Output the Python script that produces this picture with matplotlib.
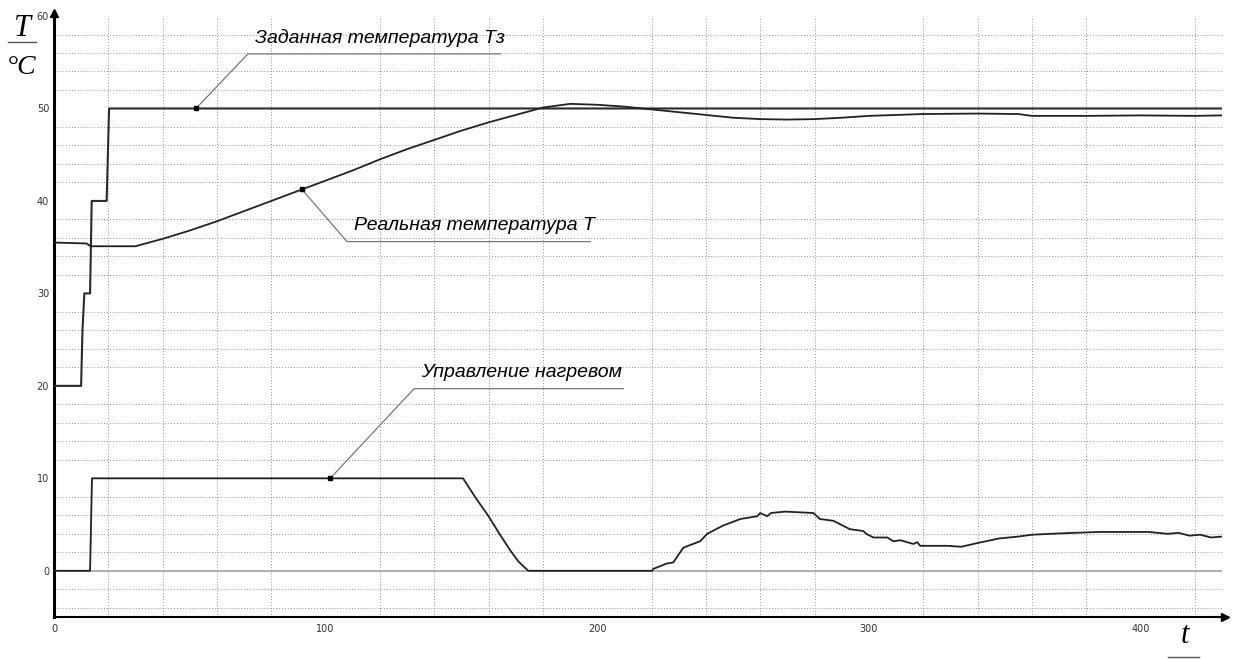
import numpy as np
import matplotlib.pyplot as plt

#-------- data --------#
# set temperature Tз (step profile)
t_set = [0, 10, 10.5, 11.2, 13.3, 13.9, 19.4, 20.3, 430]
T_set = [20, 20, 26, 30, 30, 40, 40, 50, 50]

# real temperature T
t_real = [0, 12, 13.5, 30, 40, 50, 60, 70, 80, 90, 100, 110, 120, 130, 140, 150,
          160, 170, 180, 190, 200, 210, 220, 230, 240, 250, 260, 270, 280, 290,
          300, 310, 320, 340, 355, 360, 380, 400, 420, 430]
T_real = [35.5, 35.4, 35.1, 35.1, 35.9, 36.8, 37.8, 38.9, 40.0, 41.1, 42.2, 43.3,
          44.5, 45.6, 46.6, 47.6, 48.5, 49.3, 50.1, 50.5, 50.4, 50.2, 49.9, 49.6,
          49.3, 49.0, 48.85, 48.8, 48.85, 49.0, 49.2, 49.3, 49.4, 49.45, 49.4,
          49.2, 49.2, 49.25, 49.2, 49.25]

# heating control
t_ctrl = [0, 13.3, 14.0, 150.6, 155, 160, 164, 168, 171, 174.6, 220.2, 220.6,
          225.8, 228, 231.7, 237.9, 240.5, 246.4, 252.7, 258.9, 260, 262.6, 264,
          269.2, 279.6, 282, 287, 293, 298, 299, 301.7, 306.8, 309, 311.6, 316.4,
          317.8, 318.9, 328.9, 334, 340, 348, 355, 360, 367, 375, 385, 395, 403,
          410, 414, 418, 422, 426, 430]
U_ctrl = [0, 0, 10, 10, 8.0, 5.9, 4.0, 2.2, 1.0, 0, 0, 0.2,
          0.8, 0.9, 2.5, 3.2, 4.0, 4.9, 5.6, 5.9, 6.25, 5.9, 6.25,
          6.4, 6.25, 5.6, 5.4, 4.5, 4.3, 4.0, 3.6, 3.6, 3.2, 3.3, 2.9,
          3.1, 2.7, 2.7, 2.6, 3.0, 3.5, 3.7, 3.9, 4.0, 4.1, 4.2, 4.2, 4.2,
          4.0, 4.1, 3.8, 3.9, 3.6, 3.7]

x_ticks = [0, 100, 200, 300, 400]
y_ticks = [0, 10, 20, 30, 40, 50, 60]

label_set = 'Заданная температура Тз'
label_real = 'Реальная температура Т'
label_ctrl = 'Управление нагревом'

note_font = ['Liberation Sans', 'DejaVu Sans']

#-------- figure --------#
fig = plt.figure(figsize=(12.43, 6.59), dpi=100)
ax = fig.add_axes([0.0434, 0.0637, 0.9397, 0.912])
ax.set_xlim(0, 430)
ax.set_ylim(-5, 60)

# grid
ax.set_xticks(np.arange(0, 431, 20), minor=True)
ax.set_yticks(np.arange(-4, 61, 2), minor=True)
ax.grid(True, which='minor', color='#8f8f8f', ls=(0, (1, 2)), lw=0.7)
ax.set_xticks(x_ticks)
ax.set_yticks(y_ticks)
ax.tick_params(which='both', length=0, labelsize=7, colors='#333333')
ax.tick_params(axis='x', pad=5)

for s in ['top', 'right']:
    ax.spines[s].set_visible(False)
ax.spines['left'].set_linewidth(2.2)
ax.spines['bottom'].set_linewidth(1.5)
ax.plot(0, 1.005, '^k', ms=6, transform=ax.transAxes, clip_on=False)
ax.plot(1.003, 0, '>k', ms=6, transform=ax.transAxes, clip_on=False)

# zero line
ax.plot([0, 430], [0, 0], color='#999999', lw=1.1, zorder=2)

# curves
ax.plot(t_set, T_set, color='#2a2a2a', lw=1.5, zorder=3)
ax.plot(t_real, T_real, color='#222222', lw=1.3, zorder=3)
ax.plot(t_ctrl, U_ctrl, color='#222222', lw=1.3, zorder=3)

#-------- leader notes --------#
def note(xp, curve_t, curve_y, xl, xr, yl, text):
    yp = np.interp(xp, curve_t, curve_y)
    ax.plot([xp, xl, xr], [yp, yl, yl], color='#777777', lw=0.9, zorder=4)
    ax.plot(xp, yp, 's', color='black', ms=2.5, zorder=5)
    ax.text(xl + 2.5, yl + 0.8, text, family=note_font, style='italic',
            fontsize=14, color='black', va='bottom', ha='left', zorder=5)

note(52.3, t_set, T_set, 71.4, 164.3, 55.9, label_set)
note(91.3, t_real, T_real, 107.9, 197.4, 35.6, label_real)
note(101.7, t_ctrl, U_ctrl, 132.6, 209.6, 19.7, label_ctrl)

# axis captions
fig.text(0.0177, 0.957, 'T', family='Liberation Serif', style='italic',
         fontsize=22, ha='center', va='center')
fig.add_artist(plt.Line2D([0.0065, 0.029], [0.936, 0.936], color='#555555', lw=1))
fig.text(0.0177, 0.898, '°C', family='Liberation Serif', style='italic',
         fontsize=20, ha='center', va='center')
fig.text(0.9535, 0.035, 't', family='Liberation Serif', style='italic',
         fontsize=22, ha='center', va='center')
fig.add_artist(plt.Line2D([0.94, 0.965], [0.003, 0.003], color='#555555', lw=1))

fig.savefig('out.png', dpi=100)
